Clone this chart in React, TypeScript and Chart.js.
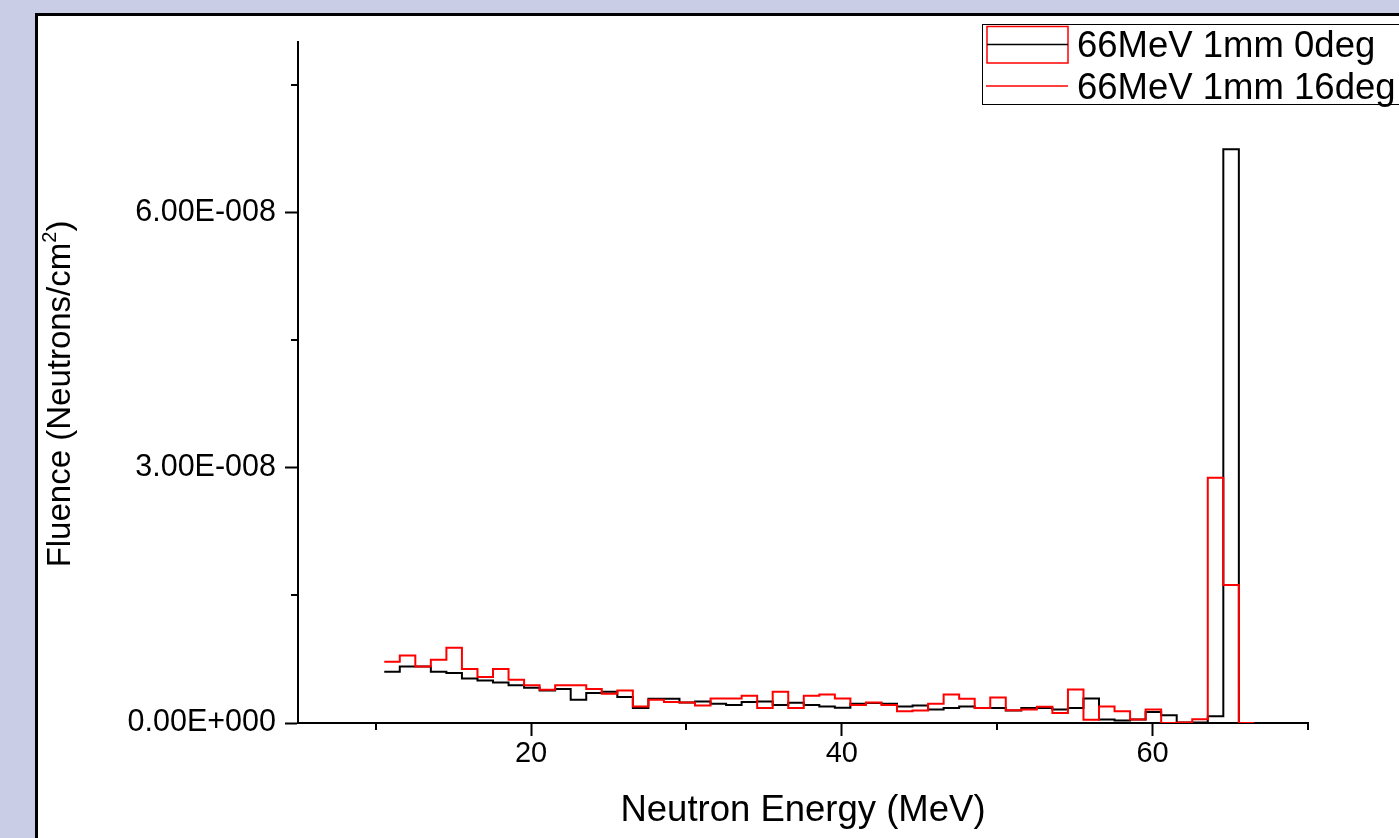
import React, { useEffect, useRef } from "react";
import { Chart, registerables } from "chart.js";

Chart.register(...registerables);

// Lower bin edges (MeV); last entry closes the final bin
const binEdgesMeV = [
  10.55, 11.55, 12.55, 13.55, 14.55, 15.55, 16.55, 17.55, 18.55, 19.55,
  20.55, 21.55, 22.55, 23.55, 24.55, 25.55, 26.55, 27.55, 28.55, 29.55,
  30.55, 31.55, 32.55, 33.55, 34.55, 35.55, 36.55, 37.55, 38.55, 39.55,
  40.55, 41.55, 42.55, 43.55, 44.55, 45.55, 46.55, 47.55, 48.55, 49.55,
  50.55, 51.55, 52.55, 53.55, 54.55, 55.55, 56.55, 57.55, 58.55, 59.55,
  60.55, 61.55, 62.55, 63.55, 64.55, 65.55, 66.55,
];

// Fluence in units of 1E-9 neutrons/cm^2
const fluence0deg = [
  6.02, 6.65, 6.65, 6.02, 5.87, 5.24, 5.0, 4.77, 4.42, 4.14,
  3.83, 3.99, 2.74, 3.52, 3.68, 3.05, 1.76, 2.85, 2.85, 2.42,
  2.54, 2.27, 2.11, 2.46, 2.54, 2.11, 2.38, 2.11, 1.95, 1.8,
  2.27, 2.35, 2.27, 1.95, 2.07, 1.6, 1.76, 1.95, 1.76, 1.76,
  1.48, 1.76, 1.76, 1.6, 1.76, 2.87, 0.4, 0.3, 0.42, 1.3,
  0.9, 0.05, 0.05, 0.8, 67.4, 0,
];

const fluence16deg = [
  7.2, 7.94, 6.65, 7.43, 8.84, 6.34, 5.4, 6.34, 5.08, 4.42,
  3.91, 4.42, 4.42, 3.99, 3.44, 3.83, 1.95, 2.74, 2.46, 2.42,
  2.07, 2.89, 2.89, 3.21, 1.76, 3.68, 1.76, 3.21, 3.36, 2.89,
  2.11, 2.42, 2.11, 1.37, 1.48, 2.25, 3.36, 2.85, 1.76, 3.01,
  1.5, 1.6, 1.9, 1.17, 3.95, 0.39, 1.95, 1.37, 0.42, 1.6,
  0, 0.05, 0.45, 28.8, 16.2, 0, 0,
];

const seriesLabels = ["66MeV 1mm 0deg", "66MeV 1mm 16deg"];
const seriesColors = ["#000000", "#ff0000"];

const xMajorTicks = [20, 40, 60];
const xMinorTicks = [10, 30, 50, 70];
const yMajorTicks = [0, 3e-8, 6e-8];
const yMajorLabels = ["0.00E+000", "3.00E-008", "6.00E-008"];
const yMinorTicks = [1.5e-8, 4.5e-8, 7.5e-8];

const xTitle = "Neutron Energy (MeV)";
const yTitleMain = "Fluence (Neutrons/cm";
const yTitleSup = "2";
const yTitleEnd = ")";

const FONT = "'Liberation Sans', Arial, sans-serif";

function toPoints(values: number[]) {
  return values.map((v, i) => ({ x: binEdgesMeV[i], y: v * 1e-9 }));
}

const extrasPlugin = {
  id: "extras",
  afterDraw(chart: any) {
    const ctx = chart.ctx as CanvasRenderingContext2D;
    const xs = chart.scales.x;
    const ys = chart.scales.y;
    const area = chart.chartArea;
    ctx.save();
    // minor ticks
    ctx.strokeStyle = "#000";
    ctx.lineWidth = 2;
    ctx.beginPath();
    xMinorTicks.forEach((v) => {
      const px = Math.round(xs.getPixelForValue(v));
      ctx.moveTo(px, area.bottom);
      ctx.lineTo(px, area.bottom + 7);
    });
    yMinorTicks.forEach((v) => {
      const py = Math.round(ys.getPixelForValue(v));
      ctx.moveTo(area.left - 7, py);
      ctx.lineTo(area.left, py);
    });
    ctx.stroke();

    // y axis title (rotated, with superscript)
    ctx.fillStyle = "#000";
    const mainFont = `33px ${FONT}`;
    const supFont = `20px ${FONT}`;
    ctx.font = mainFont;
    const w1 = ctx.measureText(yTitleMain).width;
    const w3 = ctx.measureText(yTitleEnd).width;
    ctx.font = supFont;
    const w2 = ctx.measureText(yTitleSup).width;
    const total = w1 + w2 + w3;
    ctx.translate(61, 394);
    ctx.rotate(-Math.PI / 2);
    ctx.textBaseline = "middle";
    ctx.textAlign = "left";
    let x0 = -total / 2;
    ctx.font = mainFont;
    ctx.fillText(yTitleMain, x0, 0);
    x0 += w1;
    ctx.font = supFont;
    ctx.fillText(yTitleSup, x0, -11);
    x0 += w2;
    ctx.font = mainFont;
    ctx.fillText(yTitleEnd, x0, 0);
    ctx.restore();

    // legend
    ctx.save();
    ctx.strokeStyle = "#000";
    ctx.lineWidth = 1;
    ctx.strokeRect(982.5, 24.5, 600, 80);
    // entry 1: red box outline with black line
    ctx.strokeStyle = seriesColors[1];
    ctx.lineWidth = 1.5;
    ctx.strokeRect(987, 26.5, 81, 36.5);
    ctx.strokeStyle = seriesColors[0];
    ctx.beginPath();
    ctx.moveTo(987, 44.5);
    ctx.lineTo(1068, 44.5);
    ctx.stroke();
    // entry 2: red line
    ctx.strokeStyle = seriesColors[1];
    ctx.beginPath();
    ctx.moveTo(986, 86);
    ctx.lineTo(1068, 86);
    ctx.stroke();
    ctx.fillStyle = "#000";
    ctx.font = `36.5px ${FONT}`;
    ctx.textBaseline = "alphabetic";
    ctx.textAlign = "left";
    ctx.fillText(seriesLabels[0], 1077, 56.5);
    ctx.fillText(seriesLabels[1], 1077, 99);
    ctx.restore();
  },
};

export default function App() {
  const canvasRef = useRef<HTMLCanvasElement | null>(null);

  useEffect(() => {
    if (!canvasRef.current) return;
    const chart = new Chart(canvasRef.current, {
      type: "line",
      data: {
        datasets: [
          {
            label: seriesLabels[1],
            data: toPoints(fluence16deg),
            borderColor: seriesColors[1],
            borderWidth: 2,
            stepped: true,
            pointRadius: 0,
            fill: false,
            order: 0,
          },
          {
            label: seriesLabels[0],
            data: toPoints(fluence0deg),
            borderColor: seriesColors[0],
            borderWidth: 2,
            stepped: true,
            pointRadius: 0,
            fill: false,
            order: 1,
          },
        ],
      },
      options: {
        responsive: false,
        animation: false,
        devicePixelRatio: 1,
        parsing: false,
        layout: { padding: { left: 0, top: 42, right: 91, bottom: 0 } },
        plugins: {
          legend: { display: false },
          tooltip: { enabled: false },
        },
        scales: {
          x: {
            type: "linear",
            min: 5,
            max: 70,
            afterBuildTicks: (scale: any) => {
              scale.ticks = xMajorTicks.map((v) => ({ value: v }));
            },
            afterFit: (scale: any) => {
              scale.height = 115;
            },
            grid: {
              display: true,
              drawOnChartArea: false,
              drawTicks: true,
              tickLength: 13,
              tickWidth: 2,
              tickColor: "#000",
            },
            border: { display: true, color: "#000", width: 2 },
            ticks: {
              color: "#000",
              font: { family: FONT, size: 29 },
              padding: 1,
              maxRotation: 0,
              autoSkip: false,
              callback: (v: any) => String(v),
            },
            title: {
              display: true,
              text: xTitle,
              color: "#000",
              font: { family: FONT, size: 36.5 },
              padding: { top: 0, bottom: 5 },
            },
          },
          y: {
            type: "linear",
            min: 0,
            max: 8e-8,
            afterBuildTicks: (scale: any) => {
              scale.ticks = yMajorTicks.map((v) => ({ value: v }));
            },
            afterFit: (scale: any) => {
              scale.width = 298;
            },
            grid: {
              display: true,
              drawOnChartArea: false,
              drawTicks: true,
              tickLength: 13,
              tickWidth: 2,
              tickColor: "#000",
            },
            border: { display: true, color: "#000", width: 2 },
            ticks: {
              color: "#000",
              font: { family: FONT, size: 30.5 },
              padding: 9,
              autoSkip: false,
              callback: (_v: any, i: number) => yMajorLabels[i],
            },
          },
        },
      },
      plugins: [extrasPlugin],
    } as any);
    return () => chart.destroy();
  }, []);

  return (
    <div
      style={{
        position: "fixed",
        left: 0,
        top: 0,
        width: 1399,
        height: 838,
        background: "#c9cde6",
        overflow: "hidden",
      }}
    >
      <div
        style={{
          position: "absolute",
          left: 35,
          top: 13,
          width: 2000,
          height: 2000,
          background: "#ffffff",
          border: "3px solid #000",
        }}
      />
      <canvas
        ref={canvasRef}
        width={1399}
        height={838}
        style={{ position: "absolute", left: 0, top: 0, display: "block" }}
      />
    </div>
  );
}
